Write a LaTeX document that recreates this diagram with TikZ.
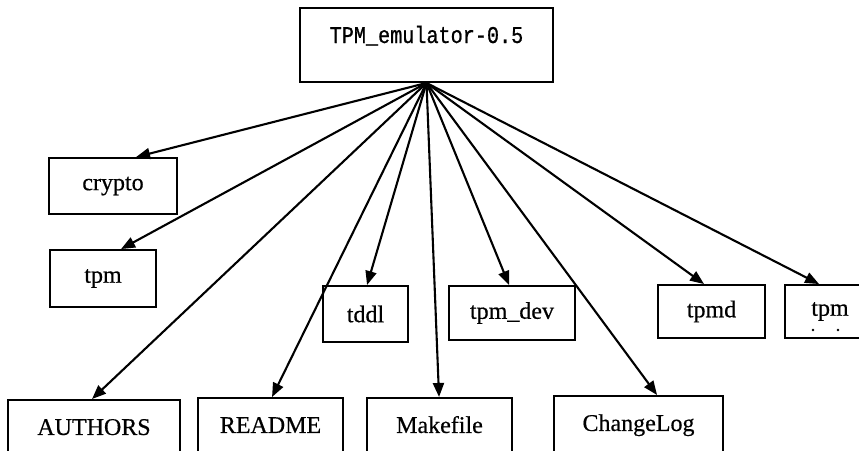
\documentclass[tikz,border=0pt]{standalone}
\usepackage{fontspec}
\setmainfont[FakeBold=0.5]{Liberation Serif}
\newfontfamily\rootfont[FakeStretch=0.84,FakeBold=0.8]{Liberation Mono}
\usetikzlibrary{arrows.meta}
\begin{document}
\begin{tikzpicture}[x=1pt,y=-1pt,
  box/.style={draw, line width=1.9pt, rectangle, inner sep=0pt,
    font=\fontsize{24}{24}\selectfont},
  bottombox/.style={box, anchor=north, minimum height=60pt,
    text height=16pt, text depth=6pt},
  arr/.style={line width=2.1pt, -{Triangle[length=14pt,width=11pt]}},
  speck/.style={circle, fill, inner sep=0pt, minimum size=2.8pt}]
\useasboundingbox (0,0) rectangle (859,450);
\clip (0,0) rectangle (859,450);

% root directory
\node[box, minimum width=253pt, minimum height=74pt, text height=15pt, text depth=19pt,
  font=\rootfont\fontsize{24}{24}\selectfont] (root) at (426.5,45) {TPM\_emulator-0.5};
\coordinate (src) at (root.south);

% sub-directories
\node[box, minimum width=128pt, minimum height=56pt] (crypto) at (113,186) {crypto};
\node[box, minimum width=106pt, minimum height=57pt] (tpmA) at (103,278.5) {tpm};
\node[box, minimum width=85pt, minimum height=56pt] (tddl) at (365.5,314) {tddl};
\node[box, minimum width=126pt, minimum height=54pt] (tpmdev) at (512,313) {tpm\_dev};
\node[box, minimum width=107pt, minimum height=53pt] (tpmd) at (711.5,311.5) {tpmd};
\node[box, minimum width=90pt, minimum height=53pt] (tpmB) at (830,311.5) {tpm};
\node[speck] (speckA) at (813,330) {};
\node[speck] (speckB) at (838,330) {};

% files
\node[bottombox, minimum width=172pt] (authors) at (94,399) {AUTHORS};
\node[bottombox, minimum width=145pt] (readme) at (270.5,397) {README};
\node[bottombox, minimum width=145pt] (makefile) at (439.5,397) {Makefile};
\node[bottombox, minimum width=169pt] (changelog) at (638.5,395) {ChangeLog};

% connectors
\draw[arr] (src) -- ([xshift=88pt]crypto.north west);
\draw[arr] (src) -- ([xshift=72pt]tpmA.north west);
\draw[arr] (src) -- ([xshift=85pt]authors.north west);
\draw[arr] (src) -- ([xshift=75pt]readme.north west);
\draw[arr] (src) -- ([xshift=45pt]tddl.north west);
\draw[arr] (src) -- ([xshift=73pt]makefile.north west);
\draw[arr] (src) -- ([xshift=61pt]tpmdev.north west);
\draw[arr] (src) -- ([xshift=104pt]changelog.north west);
\draw[arr] (src) -- ([xshift=47pt]tpmd.north west);
\draw[arr] (src) -- ([xshift=35pt]tpmB.north west);
\end{tikzpicture}
\end{document}
